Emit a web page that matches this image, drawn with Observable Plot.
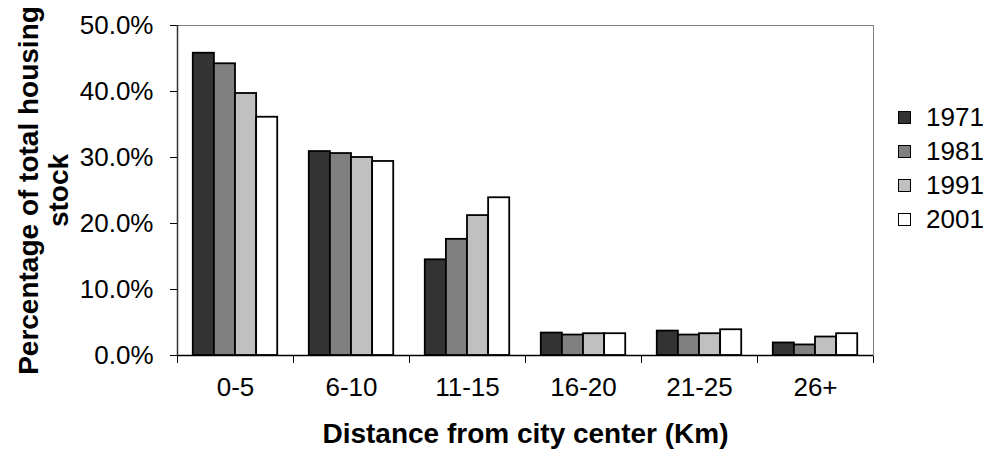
<!DOCTYPE html>
<html><head><meta charset="utf-8">
<script src="https://cdn.jsdelivr.net/npm/d3@7"></script>
<script src="https://cdn.jsdelivr.net/npm/@observablehq/plot@0.6"></script>
<style>
body{margin:0;background:#fff;}
#wrap{position:relative;width:990px;height:463px;font-family:"Liberation Sans",Arial,sans-serif;}
#legend{position:absolute;left:898px;top:100px;}
.row{display:flex;align-items:center;height:34px;font-size:26px;color:#000;}
.sw{width:11px;height:11px;border:1px solid #000;margin-right:15px;}
</style></head><body><div id="wrap"></div>
<script>
const categories = ["0-5", "6-10", "11-15", "16-20", "21-25", "26+"];
const years = ["1971", "1981", "1991", "2001"];
const v1971 = [45.8, 30.9, 14.5, 3.4, 3.7, 1.9];
const v1981 = [44.2, 30.6, 17.6, 3.1, 3.1, 1.6];
const v1991 = [39.7, 30.0, 21.2, 3.3, 3.3, 2.8];
const v2001 = [36.1, 29.4, 23.9, 3.3, 3.9, 3.3];
const yTicks = [0, 10, 20, 30, 40, 50];
const colors = ["#333333", "#808080", "#c0c0c0", "#ffffff"];
const xTitle = "Distance from city center (Km)";
const yTitle = "Percentage of total housing\nstock";

const series = [v1971, v1981, v1991, v2001];
const data = [];
categories.forEach((c, ci) => series.forEach((s, si) =>
  data.push({category: c, ci, year: years[si], si, value: s[ci]})));

const barW = 0.182, groupPad = (1 - 4 * barW) / 2;

const chart = Plot.plot({
  width: 990, height: 463,
  marginLeft: 177, marginRight: 117, marginTop: 25, marginBottom: 108,
  style: {fontFamily: '"Liberation Sans", Arial, sans-serif', fontSize: "26px", color: "#000", background: "#fff", overflow: "visible"},
  x: {domain: [0, categories.length], ticks: d3.range(0, categories.length + 1), tickFormat: () => "", tickSize: 8, label: null},
  y: {domain: [0, 50], ticks: yTicks, tickFormat: d => d.toFixed(1) + "%", tickSize: 7, tickPadding: 17, label: null},
  color: {domain: years, range: colors},
  marks: [
    Plot.frame({stroke: "#808080"}),
    Plot.rectY(data, {
      x1: d => d.ci + groupPad + d.si * barW,
      x2: d => d.ci + groupPad + (d.si + 1) * barW,
      y: "value", fill: "year", stroke: "#000", strokeWidth: 1.8
    }),
    Plot.ruleX([0], {stroke: "#333", strokeWidth: 1.5}),
    Plot.ruleY([0], {stroke: "#000", strokeWidth: 1.5}),
    Plot.text(categories, {x: (d, i) => i + 0.5, frameAnchor: "bottom", dy: 40, text: d => d, fontSize: 26}),
    Plot.text([xTitle], {frameAnchor: "bottom", dy: 87, text: d => d, fontWeight: "bold", fontSize: 28}),
    Plot.text([yTitle], {frameAnchor: "left", textAnchor: "middle", dx: -134, rotate: -90, text: d => d, fontWeight: "bold", fontSize: 28, lineHeight: 1.07})
  ]
});

const wrap = document.getElementById("wrap");
wrap.appendChild(chart);
const colorScale = chart.scale("color");
const legend = document.createElement("div");
legend.id = "legend";
years.forEach(y => {
  const row = document.createElement("div");
  row.className = "row";
  const sw = document.createElement("div");
  sw.className = "sw";
  sw.style.background = colorScale.apply(y);
  const t = document.createElement("span");
  t.textContent = y;
  row.appendChild(sw); row.appendChild(t);
  legend.appendChild(row);
});
wrap.appendChild(legend);
</script></body></html>
